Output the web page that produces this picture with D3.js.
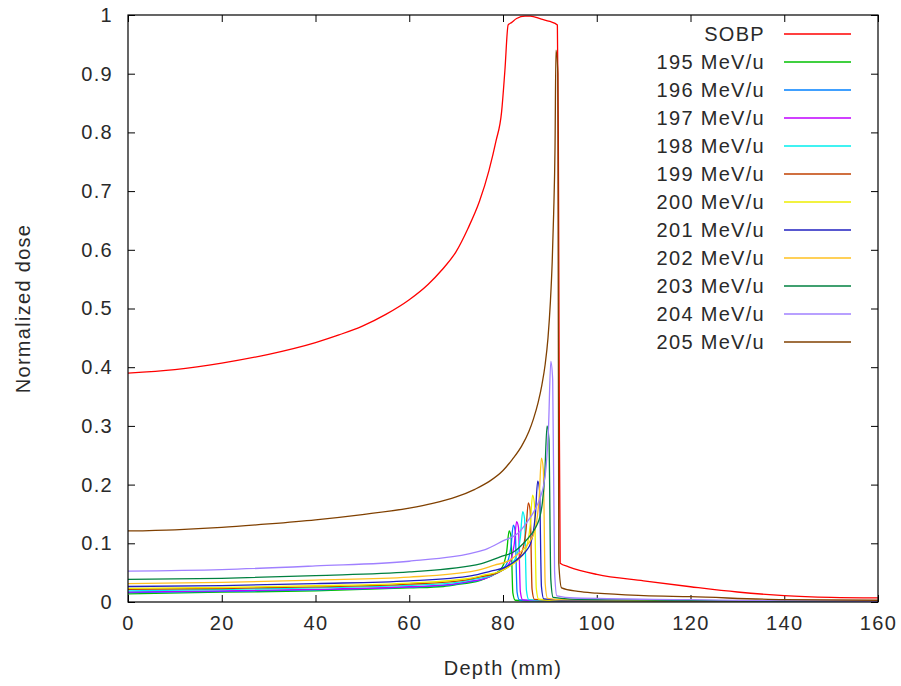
<!DOCTYPE html>
<html>
<head>
    <title>SOBP</title>
    <style>
        body { margin: 0; background: #fff; }
        svg { font-family: 'Liberation Sans', Arial, sans-serif; }
        .lbl { fill: #2a2a2a; font-size: 20px; letter-spacing: 1.3px; }
    </style>
</head>
<body>
    <div id="chart"></div>
    <script src="https://d3js.org/d3.v7.min.js"></script>
    <script>
        // series labels and colours (gnuplot defaults)
        const labels = ["SOBP", "195 MeV/u", "196 MeV/u", "197 MeV/u", "198 MeV/u", "199 MeV/u",
                        "200 MeV/u", "201 MeV/u", "202 MeV/u", "203 MeV/u", "204 MeV/u", "205 MeV/u"];
        const colors = ["#ff0000", "#00c000", "#0080ff", "#c000ff", "#00eeee", "#c04000",
                        "#eeee00", "#2020c0", "#ffc020", "#008040", "#a080ff", "#804000"];

        const xTicks = [0, 20, 40, 60, 80, 100, 120, 140, 160];
        const yTicks = [0, 0.1, 0.2, 0.3, 0.4, 0.5, 0.6, 0.7, 0.8, 0.9, 1];

        // [depth mm, normalized dose]
        const sobp = [[0,0.39],[10,0.396],[20,0.407],[30,0.422],[40,0.442],[45,0.455],[50,0.47],[55,0.49],
            [60,0.515],[64,0.541],[67,0.566],[70,0.597],[72.5,0.636],[75,0.683],[77,0.735],[78.5,0.785],
            [79.7,0.835],[80.4,0.905],[81.1,0.983],[81.8,0.987],[82.9,0.994],[84.7,0.998],[85.8,0.998],
            [88.2,0.993],[90,0.989],[91.6,0.983],[91.8,0.8],[92,0.35],[92.2,0.066],[94,0.06],[100,0.047],
            [110,0.036],[120,0.026],[130,0.017],[140,0.011],[150,0.008],[160,0.007]];
        const e195 = [[0,0.014],[20,0.0167],[40,0.0189],[60,0.0239],[67.3,0.0264],[71.3,0.031],[74.3,0.0346],
            [76.3,0.0403],[77.9,0.0462],[79,0.052],[79.8,0.0589],[80.3,0.0682],[80.8,0.0868],[81.3,0.121],
            [81.7,0.112],[82.1,0.0155],[82.6,0.003],[86.3,0.002],[120,0.0012],[140,0.0006],[160,0.0004]];
        const e196 = [[0,0.016],[20,0.0181],[40,0.0205],[60,0.0252],[68.2,0.0286],[72.2,0.0336],[75.2,0.0375],
            [77.2,0.0437],[78.8,0.0501],[79.9,0.0564],[80.7,0.0638],[81.2,0.0739],[81.7,0.0941],[82.2,0.131],
            [82.6,0.121],[83,0.0168],[83.5,0.0034],[87.2,0.0022],[120,0.0013],[140,0.0006],[160,0.0004]];
        const e197 = [[0,0.017],[20,0.019],[40,0.0215],[60,0.026],[68.9,0.0299],[72.9,0.0352],[75.9,0.0392],
            [77.9,0.0458],[79.5,0.0524],[80.6,0.0591],[81.4,0.0669],[81.9,0.0774],[82.4,0.0986],[82.9,0.137],
            [83.3,0.127],[83.7,0.0176],[84.2,0.0035],[87.9,0.0023],[120,0.0013],[140,0.0006],[160,0.0004]];
        const e198 = [[0,0.019],[20,0.0213],[40,0.024],[60,0.0282],[70.2,0.0335],[74.2,0.0394],[77.2,0.0439],
            [79.2,0.0512],[80.8,0.0587],[81.9,0.0662],[82.7,0.0749],[83.2,0.0867],[83.7,0.11],[84.2,0.154],
            [84.6,0.142],[85,0.0197],[85.5,0.004],[89.2,0.0026],[120,0.0015],[140,0.0007],[160,0.0005]];
        const e199 = [[0,0.0217],[20,0.023],[40,0.0258],[60,0.0304],[71.4,0.0369],[75.4,0.0434],[78.4,0.0484],
            [80.4,0.0564],[82,0.0647],[83.1,0.0729],[83.9,0.0825],[84.4,0.0955],[84.9,0.122],[85.4,0.169],
            [85.8,0.156],[86.2,0.0217],[86.7,0.0043],[90.4,0.0028],[120,0.0016],[140,0.0008],[160,0.0005]];
        const e200 = [[0,0.0233],[20,0.0247],[40,0.0277],[60,0.0322],[72.3,0.0396],[76.3,0.0466],[79.3,0.052],
            [81.3,0.0606],[82.9,0.0694],[84,0.0783],[84.8,0.0885],[85.3,0.1025],[85.8,0.13],[86.3,0.182],
            [86.7,0.168],[87.1,0.0233],[87.6,0.0047],[91.3,0.003],[120,0.0017],[140,0.0008],[160,0.0006]];
        const e201 = [[0,0.0264],[20,0.028],[40,0.0314],[60,0.0359],[73.4,0.0449],[77.4,0.0528],[80.4,0.0589],
            [82.4,0.0686],[84,0.0787],[85.1,0.0887],[85.9,0.1],[86.4,0.116],[86.9,0.148],[87.4,0.206],
            [87.8,0.19],[88.2,0.0264],[88.7,0.0053],[92.4,0.0034],[120,0.002],[140,0.0009],[160,0.0007]];
        const e202 = [[0,0.0314],[20,0.0333],[40,0.0374],[60,0.0424],[74.2,0.0534],[78.2,0.0628],[81.2,0.07],
            [83.2,0.0816],[84.8,0.0936],[85.9,0.1055],[86.7,0.119],[87.2,0.138],[87.7,0.176],[88.2,0.245],
            [88.6,0.226],[89,0.0314],[89.5,0.0063],[93.2,0.0041],[120,0.0024],[140,0.0011],[160,0.0008]];
        const e203 = [[0,0.0385],[20,0.0404],[40,0.045],[60,0.0512],[75.4,0.0655],[79.4,0.077],[82.4,0.0859],
            [84.4,0.1],[86,0.115],[87.1,0.129],[87.9,0.146],[88.4,0.169],[88.9,0.216],[89.4,0.3],
            [89.8,0.277],[90.2,0.0385],[90.7,0.0077],[94.4,0.005],[120,0.0029],[140,0.0013],[160,0.001]];
        const e204 = [[0,0.0526],[20,0.0552],[40,0.0615],[60,0.0694],[76.2,0.0894],[80.2,0.105],[83.2,0.117],
            [85.2,0.137],[86.8,0.157],[87.9,0.177],[88.7,0.2],[89.2,0.231],[89.7,0.295],[90.2,0.41],
            [90.6,0.379],[91,0.0526],[91.5,0.0105],[95.2,0.0068],[120,0.0039],[140,0.0018],[160,0.0013]];
        const e205 = [[0,0.121],[10,0.123],[20,0.127],[30,0.133],[40,0.14],[50,0.149],[60,0.16],[65,0.168],
            [70,0.179],[74,0.192],[77,0.205],[80,0.224],[82,0.243],[84,0.266],[85.5,0.29],[86.5,0.312],
            [87.5,0.34],[88.3,0.37],[89,0.405],[89.6,0.45],[90.1,0.51],[90.5,0.58],[90.8,0.66],[91.1,0.775],
            [91.3,0.94],[91.7,0.9],[91.9,0.066],[92.5,0.024],[96,0.018],[100,0.015],[110,0.011],[120,0.009],
            [140,0.004],[160,0.003]];

        const series = [sobp, e195, e196, e197, e198, e199, e200, e201, e202, e203, e204, e205];

        const [W, H] = [901, 686];
        const margin = {top: 15, right: 23, bottom: 84, left: 128};
        const width = W - margin.left - margin.right;
        const height = H - margin.top - margin.bottom;

        const svg = d3.select("#chart").append("svg")
            .attr("width", W).attr("height", H);

        const g = svg.append("g")
            .attr("transform", `translate(${margin.left}, ${margin.top})`);

        const x = d3.scaleLinear().domain([0, 160]).range([0, width]);
        const y = d3.scaleLinear().domain([0, 1]).range([height, 0]);

        g.append("clipPath").attr("id", "clip")
            .append("rect").attr("width", width).attr("height", height);

        // inward ticks on all four sides, gnuplot style
        const tickLen = 7;
        const bottom = g.append("g").attr("transform", `translate(0, ${height})`)
            .call(d3.axisBottom(x).tickValues(xTicks).tickSize(-tickLen).tickPadding(14).tickFormat(d3.format("d")));
        const left = g.append("g")
            .call(d3.axisLeft(y).tickValues(yTicks).tickSize(-tickLen).tickPadding(15).tickFormat(d => d === 0 || d === 1 ? d : d3.format(".1f")(d)));
        g.append("g").call(d3.axisTop(x).tickValues(xTicks).tickSize(-tickLen).tickFormat(""));
        g.append("g").attr("transform", `translate(${width}, 0)`)
            .call(d3.axisRight(y).tickValues(yTicks).tickSize(-tickLen).tickFormat(""));

        g.selectAll(".domain").remove();
        g.selectAll(".tick line").attr("stroke", "#000");
        [bottom, left].forEach(a => a.selectAll("text")
            .attr("class", "lbl").attr("font-size", null).attr("font-family", null).attr("fill", null));

        const line = d3.line().x(d => x(d[0])).y(d => y(d[1])).curve(d3.curveMonotoneX);

        const lines = g.append("g").attr("clip-path", "url(#clip)");
        series.forEach((s, i) => {
            lines.append("path")
                .datum(s)
                .attr("fill", "none")
                .attr("stroke", colors[i])
                .attr("stroke-width", 1.3)
                .attr("d", line);
        });

        g.append("rect").attr("width", width).attr("height", height)
            .attr("fill", "none").attr("stroke", "#000").attr("stroke-width", 1.2);

        // legend
        const legend = g.append("g").attr("transform", `translate(${width}, 0)`);
        labels.forEach((lab, i) => {
            const ly = 19 + i * 28;
            legend.append("text").attr("class", "lbl")
                .attr("x", 765 - W + margin.right).attr("y", ly)
                .attr("dy", "0.35em").attr("text-anchor", "end")
                .text(lab);
            legend.append("line")
                .attr("x1", 784 - W + margin.right).attr("x2", 851 - W + margin.right)
                .attr("y1", ly).attr("y2", ly)
                .attr("stroke", colors[i]).attr("stroke-width", 1.3);
        });

        svg.append("text").attr("class", "lbl")
            .attr("x", margin.left + width / 2).attr("y", 668)
            .attr("dy", "0.35em").attr("text-anchor", "middle")
            .text("Depth (mm)");

        svg.append("text").attr("class", "lbl")
            .attr("transform", `translate(23, ${margin.top + height / 2}) rotate(-90)`)
            .attr("dy", "0.35em").attr("text-anchor", "middle")
            .text("Normalized dose");
    </script>
</body>
</html>
